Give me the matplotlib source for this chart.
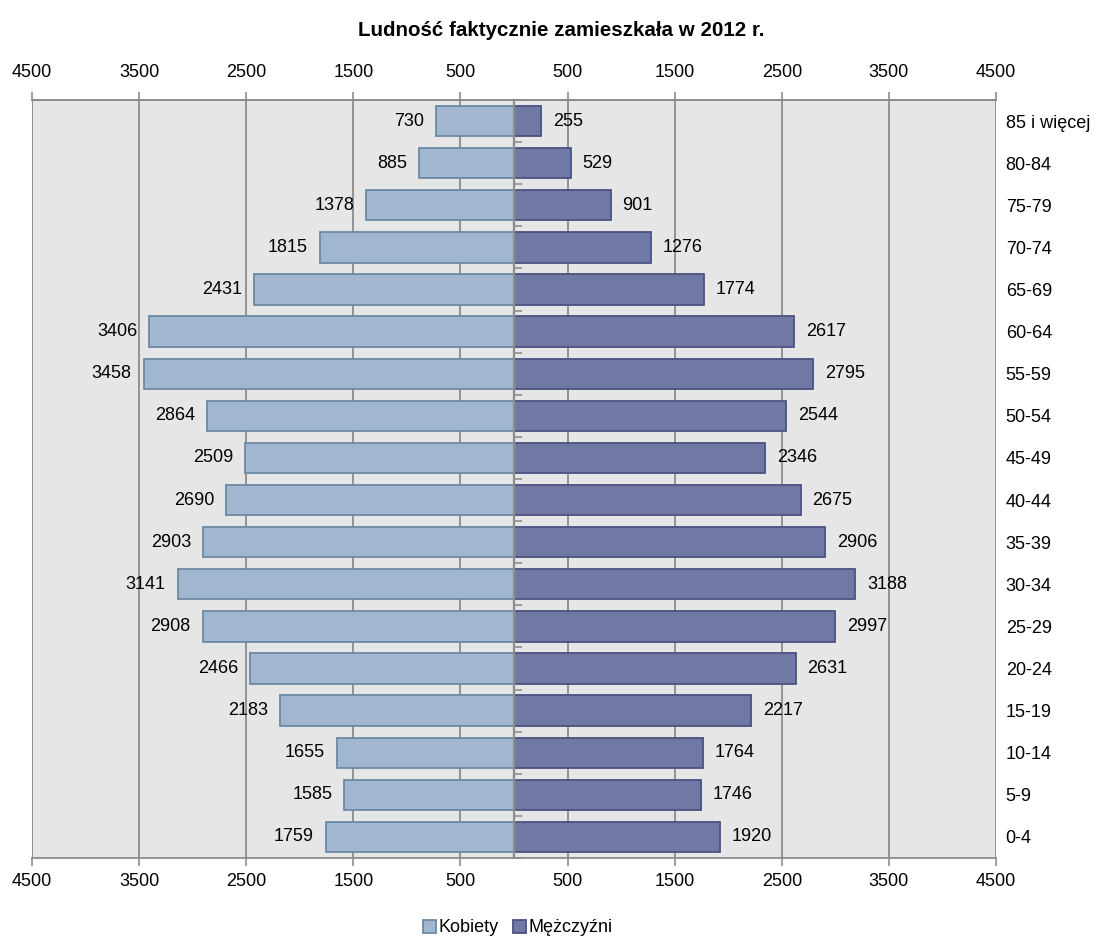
import matplotlib
matplotlib.use("Agg")
import matplotlib.pyplot as plt
from matplotlib import font_manager
import numpy as np

ages = ['0-4', '5-9', '10-14', '15-19', '20-24', '25-29', '30-34', '35-39', '40-44',
        '45-49', '50-54', '55-59', '60-64', '65-69', '70-74', '75-79', '80-84', '85 i więcej']
kobiety = [1759, 1585, 1655, 2183, 2466, 2908, 3141, 2903, 2690, 2509, 2864, 3458, 3406,
           2431, 1815, 1378, 885, 730]
mezczyzni = [1920, 1746, 1764, 2217, 2631, 2997, 3188, 2906, 2675, 2346, 2544, 2795, 2617,
             1774, 1276, 901, 529, 255]
xticks = [-4500, -3500, -2500, -1500, -500, 500, 1500, 2500, 3500, 4500]
xticklabels = [str(abs(v)) for v in xticks]
title = 'Ludność faktycznie zamieszkała w 2012 r.'

avail = {f.name for f in font_manager.fontManager.ttflist}
fam = ['Liberation Sans Narrow', 'DejaVu Sans'] if 'Liberation Sans Narrow' in avail else ['Liberation Sans', 'DejaVu Sans']
plt.rcParams['font.family'] = fam

FS = 13
GRID = '#8c8c8c'

fig = plt.figure(figsize=(11.02, 9.40), dpi=100)
ax = fig.add_axes([32/1102, 1-858/940, (996-32)/1102, (858-100)/940])
ax.set_facecolor('#e6e6e6')

y = np.arange(len(ages))
c_k, e_k = '#a1b7cf', '#6b8aa6'
c_m, e_m = '#6f79a3', '#4b5283'
ax.barh(y, [-v for v in kobiety], height=0.72, color=c_k, edgecolor=e_k, linewidth=1.3, zorder=3, label='Kobiety')
ax.barh(y, mezczyzni, height=0.72, color=c_m, edgecolor=e_m, linewidth=1.3, zorder=3, label='Mężczyźni')

for yi, v in zip(y, kobiety):
    ax.text(-v - 110, yi, str(v), ha='right', va='center', fontsize=FS, zorder=5)
for yi, v in zip(y, mezczyzni):
    ax.text(v + 110, yi, str(v), ha='left', va='center', fontsize=FS, zorder=5)

ax.set_xlim(-4500, 4500)
ax.set_ylim(-0.5, len(ages) - 0.5)
ax.set_xticks(xticks)
ax.set_xticklabels(xticklabels)
ax.tick_params(axis='x', which='major', top=False, bottom=True, labeltop=False, labelbottom=True,
               direction='out', length=6, width=1.2, color=GRID, labelsize=FS, pad=5)
ax.grid(axis='x', color=GRID, linewidth=1.3, zorder=1)
ax.set_axisbelow(True)

sec = ax.secondary_xaxis('top')
sec.set_xticks(xticks)
sec.set_xticklabels(xticklabels)
sec.tick_params(axis='x', length=6, width=1.2, color=GRID, labelsize=FS, pad=8)
sec.spines['top'].set_color(GRID)
sec.spines['top'].set_linewidth(1.3)

ax.set_yticks(y)
ax.set_yticklabels(ages)
ax.set_yticks(np.arange(-0.5, len(ages)), minor=True)
ax.tick_params(axis='y', which='major', left=False, right=False, labelleft=False, labelright=True,
               labelsize=FS, pad=7, length=0)
ax.tick_params(axis='y', which='minor', left=True, right=False, direction='in', length=6,
               width=1.2, color=GRID)

ax.spines['left'].set_position(('data', 0))
ax.spines['left'].set_color(GRID)
ax.spines['left'].set_linewidth(1.6)
ax.spines['left'].set_zorder(4)
for s in ['top', 'bottom']:
    ax.spines[s].set_color(GRID)
    ax.spines[s].set_linewidth(1.3)
ax.spines['right'].set_visible(False)

fig.text(561/1102, 1-30/940, title, ha='center', va='center', fontsize=14.8, fontweight='bold',
         family=['Liberation Sans', 'DejaVu Sans'])

leg = fig.legend(loc='center', bbox_to_anchor=(518/1102, 1-928/940), ncol=2, frameon=False,
                 fontsize=FS, handlelength=0.7, handleheight=0.7, handletextpad=0.15,
                 columnspacing=0.8)

fig.savefig('out.png', dpi=100)
